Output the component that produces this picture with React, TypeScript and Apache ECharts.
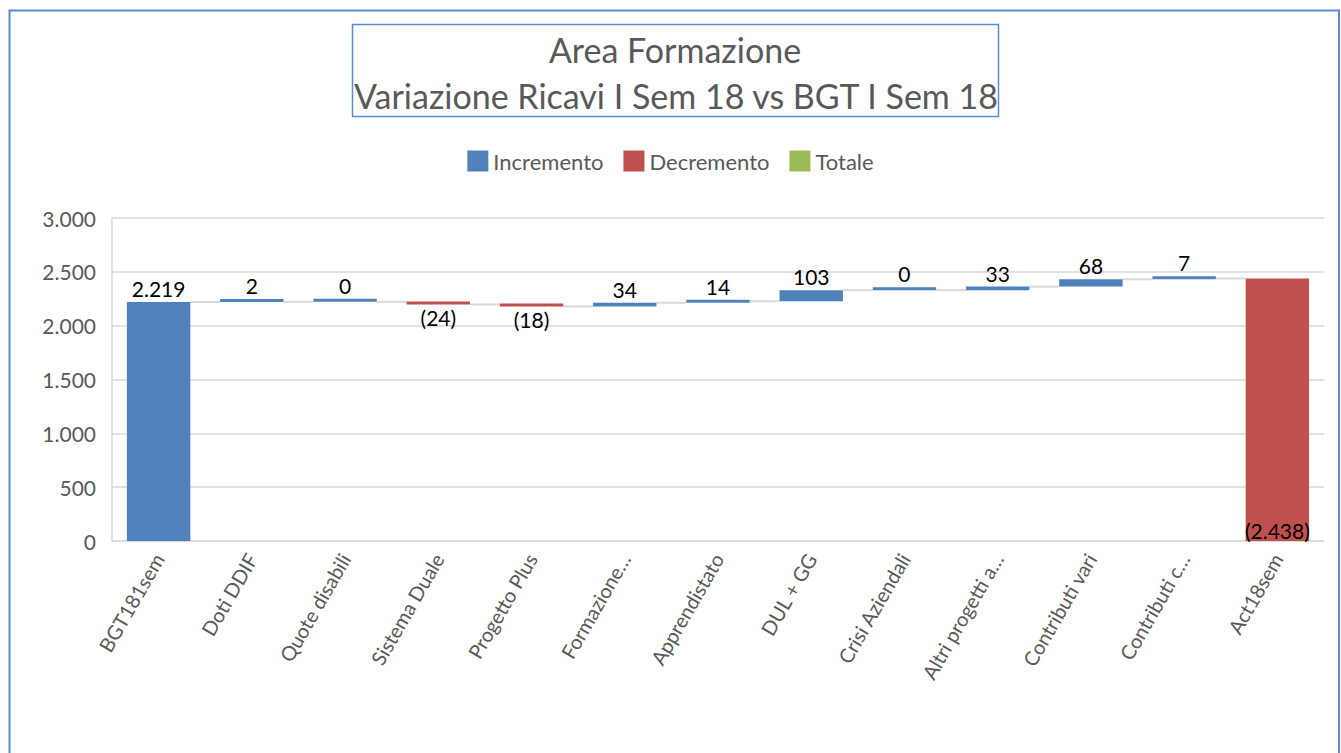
import React, { useEffect, useRef } from "react";
import * as echarts from "echarts";

const categories = [
  "BGT181sem",
  "Doti DDIF",
  "Quote disabili",
  "Sistema Duale",
  "Progetto Plus",
  "Formazione…",
  "Apprendistato",
  "DUL + GG",
  "Crisi Aziendali",
  "Altri progetti a…",
  "Contributi vari",
  "Contributi c…",
  "Act18sem",
];
const startTotal = 2219;
const deltas = [2, 0, -24, -18, 34, 14, 103, 0, 33, 68, 7];
const endTotal = 2438;
const yTicks = { min: 0, max: 3000, interval: 500 };
const legendNames = ["Incremento", "Decremento", "Totale"];

const BLUE = "#4F81BD";
const RED = "#C0504D";
const GREEN = "#9BBB59";
const FONT = "Lato, 'Open Sans', sans-serif";

function fmt(v: number): string {
  const a = Math.abs(v);
  if (a >= 1000) {
    return Math.floor(a / 1000) + "." + String(a % 1000).padStart(3, "0");
  }
  return String(a);
}

export default function App() {
  const ref = useRef<HTMLDivElement>(null);
  useEffect(() => {
    if (!ref.current) return;
    const chart = echarts.init(ref.current, undefined, { renderer: "svg" });

    const base: any[] = [0];
    const inc: any[] = [startTotal];
    const dec: any[] = ["-"];
    const levels: number[] = [startTotal];
    let level = startTotal;
    deltas.forEach((d) => {
      if (d >= 0) {
        base.push(level);
        inc.push(d);
        dec.push("-");
      } else {
        base.push(level + d);
        inc.push("-");
        dec.push(-d);
      }
      level += d;
      levels.push(level);
    });
    base.push(0);
    inc.push("-");
    dec.push({
      value: endTotal,
      label: { position: "insideBottom", distance: 0 },
    });

    const connectors = levels.map((lv, i) => [i, lv]);
    const barFrac = 0.68;

    chart.setOption({
      animation: false,
      textStyle: { fontFamily: FONT },
      graphic: [
        {
          type: "polyline",
          shape: {
            points: [
              [9.5, 760],
              [9.5, 10.5],
              [1339, 10.5],
              [1339, 760],
            ],
          },
          style: { stroke: "#5B8BD0", lineWidth: 2, fill: "none" },
          silent: true,
        },
        {
          type: "rect",
          shape: { x: 352.5, y: 24.5, width: 646, height: 92 },
          style: { stroke: "#5B8BD0", lineWidth: 1.5, fill: "#fff" },
          silent: true,
        },
        {
          type: "text",
          x: 675,
          y: 49,
          style: {
            text: "Area Formazione",
            fontSize: 34,
            fontFamily: FONT,
            fill: "#595959",
            align: "center",
            verticalAlign: "middle",
          },
        },
        {
          type: "text",
          x: 676,
          y: 95,
          style: {
            text: "Variazione Ricavi I Sem 18 vs BGT I Sem 18",
            fontSize: 34,
            fontFamily: FONT,
            fill: "#595959",
            align: "center",
            verticalAlign: "middle",
          },
        },
      ],
      legend: {
        data: legendNames,
        top: 145,
        left: "center",
        itemWidth: 21,
        itemHeight: 21,
        itemGap: 20,
        icon: "rect",
        textStyle: { fontSize: 22, color: "#595959", fontFamily: FONT },
      },
      grid: { left: 112, right: 17, top: 218, bottom: 212 },
      xAxis: {
        type: "category",
        data: categories,
        axisLine: { show: true, lineStyle: { color: "#D9D9D9", width: 1.5 } },
        axisTick: { show: false },
        axisLabel: {
          interval: 0,
          rotate: 60,
          fontSize: 20,
          color: "#595959",
          margin: 14,
          fontFamily: FONT,
        },
      },
      yAxis: {
        type: "value",
        min: yTicks.min,
        max: yTicks.max,
        interval: yTicks.interval,
        axisLine: { show: true, lineStyle: { color: "#D9D9D9", width: 1.5 } },
        axisTick: { show: false },
        splitLine: { lineStyle: { color: "#D9D9D9", width: 1.5 } },
        axisLabel: {
          fontSize: 21,
          color: "#595959",
          margin: 16,
          fontFamily: FONT,
          formatter: (v: number) => fmt(v),
        },
      },
      series: [
        {
          type: "custom",
          name: "connector",
          data: connectors,
          z: 1,
          silent: true,
          renderItem: (params: any, api: any) => {
            const i = api.value(0);
            const lv = api.value(1);
            const bw = api.size([1, 0])[0];
            const p0 = api.coord([i, lv]);
            const p1 = api.coord([i + 1, lv]);
            return {
              type: "line",
              shape: {
                x1: p0[0] + (bw * barFrac) / 2,
                y1: p0[1],
                x2: p1[0] - (bw * barFrac) / 2,
                y2: p1[1],
              },
              style: { stroke: "#D9D9D9", lineWidth: 2 },
            };
          },
        },
        {
          type: "bar",
          name: "base",
          stack: "w",
          data: base,
          barWidth: "68%",
          itemStyle: { color: "transparent" },
          silent: true,
          z: 2,
        },
        {
          type: "bar",
          name: "Incremento",
          stack: "w",
          data: inc,
          barWidth: "68%",
          barMinHeight: 3,
          itemStyle: { color: BLUE },
          z: 3,
          label: {
            show: true,
            position: "top",
            distance: 3,
            fontSize: 21,
            color: "#000",
            fontFamily: FONT,
            formatter: (p: any) => fmt(p.value),
          },
        },
        {
          type: "bar",
          name: "Decremento",
          stack: "w",
          data: dec,
          barWidth: "68%",
          barMinHeight: 3,
          itemStyle: { color: RED },
          z: 3,
          label: {
            show: true,
            position: "bottom",
            distance: 3,
            fontSize: 21,
            color: "#000",
            fontFamily: FONT,
            formatter: (p: any) => "(" + fmt(p.value) + ")",
          },
        },
        {
          type: "bar",
          name: "Totale",
          stack: "w",
          data: [],
          itemStyle: { color: GREEN },
        },
      ],
    });
    return () => chart.dispose();
  }, []);

  return (
    <div
      ref={ref}
      style={{
        position: "absolute",
        left: 0,
        top: 0,
        width: 1341,
        height: 753,
        background: "#fff",
      }}
    />
  );
}
